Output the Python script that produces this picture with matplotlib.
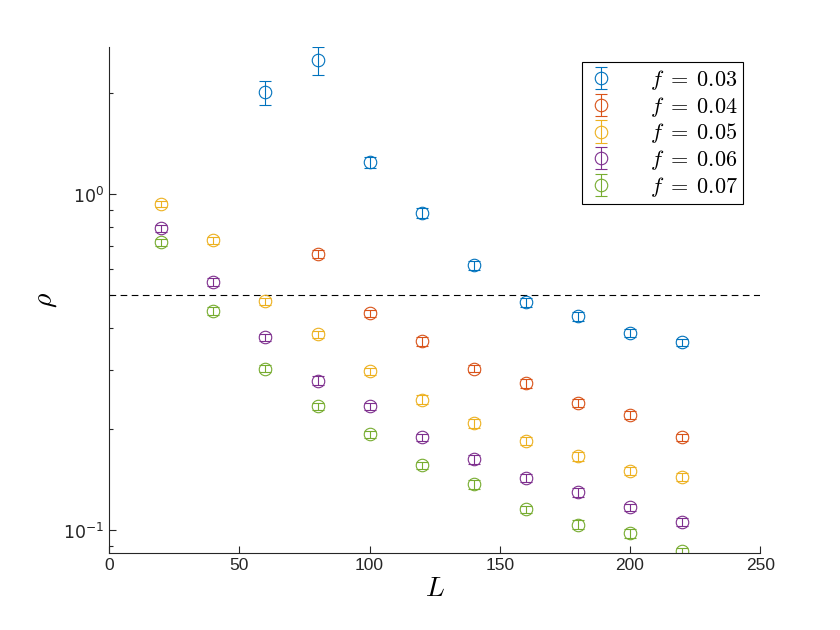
import matplotlib
matplotlib.use("Agg")
import matplotlib.pyplot as plt
from matplotlib.font_manager import FontProperties
from matplotlib.ticker import LogLocator, FixedLocator, NullFormatter

# system sizes
L_03 = [60, 80, 100, 120, 140, 160, 180, 200, 220]
L_04 = [80, 100, 120, 140, 160, 180, 200, 220]
L_all = [20, 40, 60, 80, 100, 120, 140, 160, 180, 200, 220]

# densities
rho_03 = [2.01, 2.51, 1.245, 0.878, 0.615, 0.477, 0.433, 0.386, 0.363]
rho_04 = [0.663, 0.442, 0.365, 0.303, 0.274, 0.239, 0.221, 0.189]
rho_05 = [0.934, 0.730, 0.480, 0.383, 0.297, 0.245, 0.208, 0.184, 0.166, 0.150, 0.144]
rho_06 = [0.792, 0.547, 0.375, 0.279, 0.234, 0.189, 0.163, 0.143, 0.130, 0.117, 0.106]
rho_07 = [0.720, 0.449, 0.303, 0.234, 0.193, 0.156, 0.137, 0.1155, 0.104, 0.098, 0.0866]

# error bars
err_03 = [0.17, 0.24, 0.05, 0.03, 0.02, 0.015, 0.014, 0.011, 0.009]
err_04 = [0.018, 0.012, 0.011, 0.008, 0.008, 0.007, 0.006, 0.005]
err_05 = [0.02, 0.018, 0.012, 0.01, 0.008, 0.007, 0.006, 0.005, 0.005, 0.004, 0.004]
err_06 = [0.02, 0.015, 0.01, 0.008, 0.006, 0.005, 0.005, 0.004, 0.004, 0.003, 0.003]
err_07 = [0.018, 0.012, 0.008, 0.006, 0.005, 0.004, 0.004, 0.003, 0.003, 0.003, 0.002]

labels = ["0.03", "0.04", "0.05", "0.06", "0.07"]
colors = ["#0072BD", "#D95319", "#EDB120", "#7E2F8E", "#77AC30"]

series = [
    (L_03, rho_03, err_03),
    (L_04, rho_04, err_04),
    (L_all, rho_05, err_05),
    (L_all, rho_06, err_06),
    (L_all, rho_07, err_07),
]

plt.rcParams["font.family"] = ["Liberation Sans", "DejaVu Sans"]
dark = "#262626"

fig = plt.figure(figsize=(8.4, 6.3), dpi=100)
ax = fig.add_axes([0.13, 0.122, 0.775, 0.803])

for (x, y, e), lab, c in zip(series, labels, colors):
    ax.errorbar(x, y, yerr=e, fmt="o", mfc="none", mec=c, color=c,
                ms=9, mew=0.8, elinewidth=0.8, capsize=4.5, capthick=0.8,
                label=r"$f\;=\;%s$" % lab)

ax.axhline(0.5, color="black", ls=(0, (6, 4)), lw=0.8)

ax.set_yscale("log")
ax.set_xlim(0, 250)
ax.set_ylim(0.0855, 2.74)
ax.set_xticks([0, 50, 100, 150, 200, 250])
ax.yaxis.set_major_locator(FixedLocator([0.1, 1.0]))
ax.set_yticklabels([r"$10^{-1}$", r"$10^{0}$"])
ax.yaxis.set_minor_locator(LogLocator(base=10, subs=range(2, 10)))
ax.yaxis.set_minor_formatter(NullFormatter())

ax.spines["top"].set_visible(False)
ax.spines["right"].set_visible(False)
for s in ["left", "bottom"]:
    ax.spines[s].set_color(dark)
ax.tick_params(direction="in", labelsize=12.5, width=0.8, length=5,
               color=dark, labelcolor=dark)
ax.tick_params(which="minor", direction="in", width=0.8, length=3, color=dark)

ax.set_xlabel(r"$L$", fontsize=20, math_fontfamily="cm", labelpad=2)
ax.set_ylabel(r"$\rho$", fontsize=20, math_fontfamily="cm", labelpad=3)

leg = ax.legend(loc="upper right", bbox_to_anchor=(0.974, 0.970),
                prop=FontProperties(size=16, math_fontfamily="cm"),
                fancybox=False, edgecolor="black", framealpha=1,
                handlelength=1.2, handletextpad=1.6, borderpad=0.25,
                labelspacing=0.12, borderaxespad=0)
leg.get_frame().set_linewidth(0.8)

fig.savefig("out.png", dpi=100)
